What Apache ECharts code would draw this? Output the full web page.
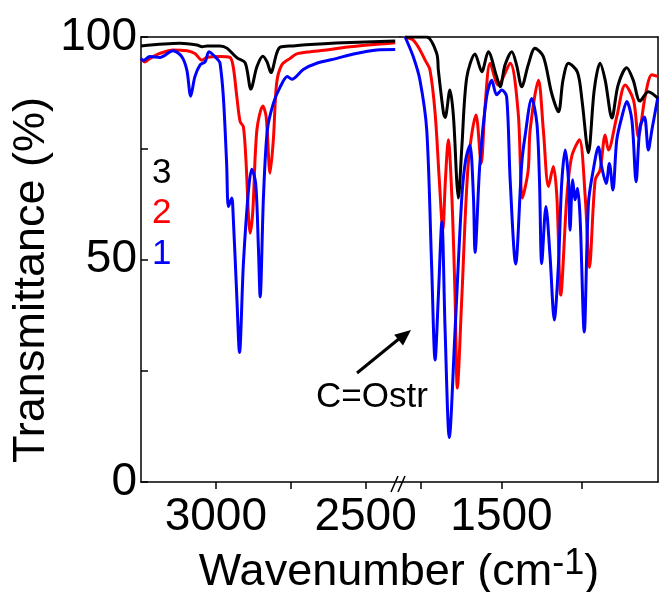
<!DOCTYPE html>
<html><head><meta charset="utf-8">
<script src="https://cdn.jsdelivr.net/npm/echarts@6/dist/echarts.min.js"></script>
<style>html,body{margin:0;padding:0;background:#fff}#c{width:659px;height:592px}</style>
</head><body><div id="c"></div>
<script>
// ---- data (wavenumber cm-1, transmittance %) ----
// left segment (3250 - 2385 cm-1)
const wn3L = [3250,3120,3063,3046,3029,2986,2963,2929,2902,2883,2863,2843,2829,2816,2797,2785,2742,2685,2575,2401];
const t3L  = [98.0,98.6,98.2,97.8,98.0,98.0,97.5,95.3,94.2,88.3,93.3,95.7,94.4,92.0,96.3,97.7,98.0,98.3,98.7,99.1];
const wn2L = [3250,3237,3220,3187,3143,3096,3070,3047,3030,2986,2953,2942,2930,2919,2908,2899,2891,2886,2877,2863,2843,2832,2819,2808,2797,2780,2752,2730,2685,2618,2552,2401];
const t2L  = [95.0,94.4,95.2,96.3,97.1,96.9,96.3,94.8,95.4,95.6,95.4,93.3,86.6,81.0,79.8,71.7,59.6,55.9,60.4,79.1,84.5,82.1,69.4,76.9,89.6,93.7,95.2,96.2,96.7,97.2,97.8,98.7];
const wn1L = [3250,3243,3220,3187,3143,3114,3097,3084,3070,3053,3036,3023,3003,2992,2986,2975,2964,2958,2947,2942,2930,2921,2908,2891,2880,2867,2858,2852,2841,2828,2808,2785,2761,2746,2708,2663,2596,2540,2462,2401];
const t1L  = [95.2,94.7,95.6,95.4,96.9,95.6,92.6,86.7,91.1,93.7,94.4,96.7,95.6,94.8,94.1,86.6,71.6,61.9,63.8,59.6,41.6,29.1,49.1,65.6,70.3,67.1,52.9,41.6,64.1,79.1,85.1,88.8,91.1,90.5,92.7,94.1,95.2,96.2,97.1,97.2];
// right segment (1815 - 1014 cm-1)
const wn3R = [1799,1732,1701,1696,1680,1675,1660,1649,1639,1634,1623,1608,1582,1561,1541,1515,1504,1489,1468,1453,1437,1417,1396,1370,1344,1323,1309,1292,1264,1250,1230,1212,1194,1178,1157,1138,1111,1091,1070,1044,1014];
const t3R  = [100,100,96.3,92.6,82.9,81.9,88.1,82.1,67.9,63.8,75.3,90.8,96.2,92.2,96.7,91.1,88.8,93.7,96.7,93.7,88.8,93.7,97.5,95.6,87.3,83.2,90.3,94.1,92.1,85.8,74.0,88.1,94.1,90.3,81.8,89.2,93.1,90.3,85.6,87.7,86.2];
const wn2R = [1799,1774,1753,1737,1722,1706,1693,1682,1674,1665,1654,1644,1637,1623,1603,1579,1563,1551,1535,1510,1473,1448,1435,1417,1411,1385,1370,1354,1339,1328,1316,1297,1282,1258,1240,1227,1209,1194,1178,1168,1142,1116,1090,1075,1054,1033,1014];
const t2R  = [100,99.3,97.1,94.8,92.6,82.9,67.9,56.6,67.9,76.9,64.1,41.6,21.1,41.6,71.6,82.5,71.6,84.3,94.1,89.2,94.1,82.9,63.8,70.1,79.1,90.3,79.1,66.4,70.9,64.1,42.0,64.1,73.1,76.9,64.1,48.2,67.9,70.1,78.0,74.6,82.1,89.2,85.8,77.6,86.6,91.5,91.1];
const wn1R = [1799,1774,1753,1732,1717,1706,1696,1685,1675,1662,1644,1623,1611,1598,1587,1582,1567,1546,1530,1515,1499,1484,1473,1456,1437,1427,1406,1390,1382,1375,1362,1349,1336,1323,1313,1302,1292,1287,1279,1271,1264,1256,1243,1230,1215,1199,1189,1175,1165,1154,1142,1126,1111,1095,1082,1070,1056,1044,1033,1014];
const t1R  = [100,95.6,90.3,79.1,49.1,27.4,41.6,58.5,34.2,10.0,34.2,64.1,72.4,75.7,64.1,51.6,71.6,86.6,90.3,87.0,88.1,86.6,67.9,49.0,71.6,77.6,86.2,80.6,67.9,49.1,61.9,50.6,36.4,49.1,67.1,74.6,67.9,56.6,67.9,63.4,66.0,59.6,33.7,62.6,70.1,75.3,70.9,67.1,71.6,65.6,76.9,82.1,85.5,81.3,67.5,79.8,82.0,74.6,79.1,86.6];

// ---- ticks / labels ----
const xTicksLeft = [2500, 2750, 3000];
const xLabelsLeft = [2500, 3000];
const xTicksRight = [1250, 1500, 1750];
const xLabelsRight = [1500];
const yTickLabels = [0, 50, 100];
const seriesNames = ['3', '2', '1'];
const seriesColors = ['#000000', '#ff0000', '#0000ff'];

const FONT = '"Liberation Sans", Arial, sans-serif';
const pair = (xs, ys) => xs.map((x, i) => [x, ys[i]]);
const AX = {color: '#000', width: 1.5};

function bottomX(grid, min, max, ticks, labels) {
  return {
    gridIndex: grid, type: 'value', inverse: true, min: min, max: max, position: 'bottom',
    axisLine: {show: true, onZero: false, lineStyle: AX},
    axisTick: {show: true, inside: false, length: 7, customValues: ticks, lineStyle: AX},
    axisLabel: {show: true, customValues: labels, formatter: v => String(v), margin: 12,
                fontSize: 46, fontFamily: FONT, color: '#000'},
    splitLine: {show: false}
  };
}
function topX(grid, min, max) {
  return {
    gridIndex: grid, type: 'value', inverse: true, min: min, max: max, position: 'top',
    axisLine: {show: true, onZero: false, lineStyle: AX},
    axisTick: {show: false}, axisLabel: {show: false}, splitLine: {show: false}
  };
}
function mk(name, color, xi, xs, ys, z) {
  return {
    name: name, type: 'line', xAxisIndex: xi, yAxisIndex: xi, data: pair(xs, ys),
    showSymbol: false, smooth: 0.3, z: z,
    lineStyle: {color: color, width: 3}, itemStyle: {color: color}
  };
}

const chart = echarts.init(document.getElementById('c'), null, {renderer: 'canvas'});
chart.setOption({
  animation: false,
  backgroundColor: '#fff',
  grid: [
    {left: 141, top: 37, width: 259, height: 445},
    {left: 400, top: 37, width: 258, height: 445}
  ],
  xAxis: [
    bottomX(0, 2385, 3250, xTicksLeft, xLabelsLeft),
    bottomX(1, 1014, 1815, xTicksRight, xLabelsRight),
    topX(0, 2385, 3250),
    topX(1, 1014, 1815)
  ],
  yAxis: [
    {gridIndex: 0, type: 'value', min: 0, max: 100, interval: 25,
     axisLine: {show: true, onZero: false, lineStyle: AX},
     axisTick: {show: true, inside: true, length: 7, lineStyle: AX},
     axisLabel: {formatter: v => yTickLabels.includes(v) ? String(v) : '', margin: 4,
                 fontSize: 46, fontFamily: FONT, color: '#000'},
     splitLine: {show: false}},
    {gridIndex: 1, type: 'value', min: 0, max: 100, position: 'right',
     axisLine: {show: true, onZero: false, lineStyle: AX},
     axisTick: {show: false}, axisLabel: {show: false}, splitLine: {show: false}}
  ],
  series: [
    mk(seriesNames[1], seriesColors[1], 0, wn2L, t2L, 2),
    mk(seriesNames[2], seriesColors[2], 0, wn1L, t1L, 3),
    mk(seriesNames[0], seriesColors[0], 0, wn3L, t3L, 4),
    mk(seriesNames[1], seriesColors[1], 1, wn2R, t2R, 2),
    mk(seriesNames[2], seriesColors[2], 1, wn1R, t1R, 3),
    mk(seriesNames[0], seriesColors[0], 1, wn3R, t3R, 4)
  ],
  graphic: [
    {type: 'text', x: 32, y: 280, rotation: Math.PI / 2,
     style: {text: 'Transmittance (%)', fontSize: 45, fontFamily: FONT, fill: '#000', align: 'center', verticalAlign: 'middle'}},
    {type: 'text', x: 399, y: 573,
     style: {text: 'Wavenumber (cm{s|-1})', fontSize: 45, fontFamily: FONT, fill: '#000', align: 'center', verticalAlign: 'middle',
             rich: {s: {fontSize: 36, fontFamily: FONT, fill: '#000', verticalAlign: 'bottom', padding: [0, 0, 18, 0]}}}},
    {type: 'text', x: 152, y: 173, style: {text: seriesNames[0], fontSize: 35, fontFamily: FONT, fill: seriesColors[0], verticalAlign: 'middle'}},
    {type: 'text', x: 152, y: 213, style: {text: seriesNames[1], fontSize: 35, fontFamily: FONT, fill: seriesColors[1], verticalAlign: 'middle'}},
    {type: 'text', x: 152, y: 254, style: {text: seriesNames[2], fontSize: 35, fontFamily: FONT, fill: seriesColors[2], verticalAlign: 'middle'}},
    {type: 'text', x: 372, y: 397, style: {text: 'C=Ostr', fontSize: 35, fontFamily: FONT, fill: '#000', align: 'center', verticalAlign: 'middle'}},
    {type: 'line', shape: {x1: 357, y1: 373, x2: 400, y2: 338}, style: {stroke: '#000', lineWidth: 3}},
    {type: 'polygon', shape: {points: [[411, 330], [403, 345.5], [394.2, 334.7]]}, style: {fill: '#000'}},
    {type: 'line', shape: {x1: 391, y1: 492, x2: 398, y2: 476}, style: {stroke: '#000', lineWidth: 1.5}},
    {type: 'line', shape: {x1: 398, y1: 492, x2: 405, y2: 476}, style: {stroke: '#000', lineWidth: 1.5}}
  ]
});
</script></body></html>
